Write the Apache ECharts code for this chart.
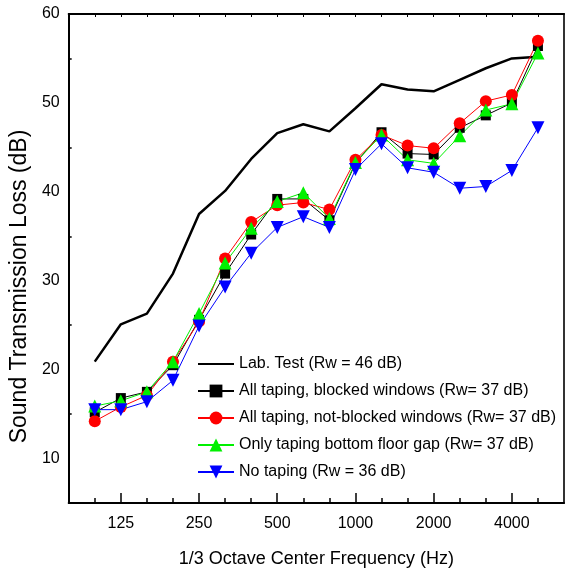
<!DOCTYPE html>
<html>
<head>
<meta charset="utf-8">
<script src="https://cdn.jsdelivr.net/npm/echarts@6/dist/echarts.min.js"></script>
<style>
  html, body { margin: 0; padding: 0; background: #fff; }
  #main { width: 567px; height: 574px; }
</style>
</head>
<body>
<div id="main"></div>
<script>
// 1/3 octave bands
const freqs = ["100", "125", "160", "200", "250", "315", "400", "500", "630", "800",
  "1000", "1250", "1600", "2000", "2500", "3150", "4000", "5000"];
const tickLabels = ["125", "250", "500", "1000", "2000", "4000"];

const labTest = [20.9, 25.1, 26.3, 30.8, 37.5, 40.1, 43.7, 46.6, 47.6, 46.8, 49.4, 52.1, 51.5, 51.3, 52.6, 53.9, 55.0, 55.2];
const blocked = [15.2, 16.8, 17.5, 20.5, 25.6, 30.8, 35.2, 39.2, 39.2, 36.8, 43.2, 46.7, 44.3, 44.2, 47.2, 48.6, 50.0, 56.4];
const notBlocked = [14.2, 15.8, 17.1, 20.9, 25.4, 32.5, 36.6, 38.5, 38.8, 38.0, 43.6, 46.4, 45.2, 44.9, 47.7, 50.2, 50.9, 57.0];
const bottomGap = [15.9, 16.5, 17.5, 20.9, 26.3, 32.0, 35.9, 38.9, 39.9, 37.0, 43.3, 46.4, 43.6, 43.2, 46.3, 49.2, 49.9, 55.6];
const noTaping = [15.5, 15.5, 16.4, 18.8, 24.9, 29.3, 33.1, 36.0, 37.2, 36.0, 42.5, 45.4, 42.7, 42.2, 40.4, 40.6, 42.4, 47.2];

// pad one empty slot on each side so the box extends past 100 and 5000 Hz
const cats = [""].concat(freqs, [""]);
const pad = (arr) => [null].concat(arr, [null]);

const font = "'Liberation Sans', Arial, sans-serif";
const isBand = (i, v) => v !== "";

var myChart = echarts.init(document.getElementById("main"));

myChart.setOption({
  animation: false,
  grid: { left: 68, right: 3, top: 14, bottom: 71 },
  xAxis: [
    {
      type: "category",
      data: cats,
      boundaryGap: false,
      position: "bottom",
      axisLine: { lineStyle: { color: "#000", width: 2 } },
      axisTick: {
        inside: true,
        length: 10,
        lineStyle: { color: "#000", width: 1.5 },
        interval: (i, v) => tickLabels.includes(v),
      },
      axisLabel: {
        interval: (i, v) => tickLabels.includes(v),
        color: "#000",
        fontFamily: font,
        fontSize: 16,
        margin: 13,
      },
      splitLine: { show: false },
      name: "1/3 Octave Center Frequency (Hz)",
      nameLocation: "middle",
      nameGap: 47,
      nameTextStyle: { color: "#000", fontFamily: font, fontSize: 18 },
    },
    {
      type: "category",
      data: cats,
      boundaryGap: false,
      position: "bottom",
      axisLine: { show: false },
      axisTick: {
        inside: true,
        length: 5,
        lineStyle: { color: "#000", width: 1.5 },
        interval: isBand,
      },
      axisLabel: { show: false },
      splitLine: { show: false },
    },
    {
      type: "category",
      data: cats,
      boundaryGap: false,
      position: "top",
      axisLine: { lineStyle: { color: "#000", width: 2 } },
      axisTick: {
        inside: true,
        length: 3,
        lineStyle: { color: "#000", width: 1 },
        interval: isBand,
      },
      axisLabel: { show: false },
      splitLine: { show: false },
    },
  ],
  yAxis: [
    {
      type: "value",
      min: 5,
      max: 60,
      splitNumber: 6,
      position: "left",
      axisLine: { show: true, lineStyle: { color: "#000", width: 2 } },
      axisTick: { inside: true, length: 7, lineStyle: { color: "#000", width: 1.5 } },
      minorTick: { show: true, splitNumber: 2, length: 3, lineStyle: { color: "#000", width: 1.5 } },
      axisLabel: {
        showMinLabel: false,
        color: "#000",
        fontFamily: font,
        fontSize: 16,
        margin: 9,
      },
      splitLine: { show: false },
      name: "Sound Transmission Loss (dB)",
      nameLocation: "middle",
      nameGap: 34,
      nameTextStyle: { color: "#000", fontFamily: font, fontSize: 23, padding: [0, 56, 0, 0] },
    },
    {
      type: "value",
      min: 5,
      max: 60,
      interval: 5,
      position: "right",
      axisLine: { show: true, lineStyle: { color: "#333", width: 2 } },
      axisTick: { inside: true, length: 3, lineStyle: { color: "#000", width: 1 } },
      axisLabel: { show: false },
      splitLine: { show: false },
    },
  ],
  legend: {
    orient: "vertical",
    left: 192,
    top: 349,
    itemWidth: 36,
    itemHeight: 16,
    itemGap: 7,
    textStyle: { color: "#000", fontFamily: font, fontSize: 16, lineHeight: 20 },
    data: [
      { name: "Lab. Test (Rw = 46 dB)", itemStyle: { opacity: 0 } },
      "All taping, blocked windows (Rw= 37 dB)",
      "All taping, not-blocked windows (Rw= 37 dB)",
      "Only taping bottom floor gap (Rw= 37 dB)",
      "No taping (Rw = 36 dB)",
    ],
  },
  series: [
    {
      name: "Lab. Test (Rw = 46 dB)",
      type: "line",
      data: pad(labTest),
      symbol: "none",
      color: "#000",
      lineStyle: { color: "#000", width: 2.5 },
    },
    {
      name: "All taping, blocked windows (Rw= 37 dB)",
      type: "line",
      data: pad(blocked),
      symbol: "rect",
      symbolSize: 10,
      color: "#000",
      lineStyle: { color: "#000", width: 1 },
    },
    {
      name: "All taping, not-blocked windows (Rw= 37 dB)",
      type: "line",
      data: pad(notBlocked),
      symbol: "circle",
      symbolSize: 12,
      color: "#ff0000",
      lineStyle: { color: "#ff0000", width: 1 },
    },
    {
      name: "Only taping bottom floor gap (Rw= 37 dB)",
      type: "line",
      data: pad(bottomGap),
      symbol: "triangle",
      symbolSize: 13,
      color: "#00f000",
      lineStyle: { color: "#00f000", width: 1 },
    },
    {
      name: "No taping (Rw = 36 dB)",
      type: "line",
      data: pad(noTaping),
      symbol: "triangle",
      symbolRotate: 180,
      symbolSize: 13,
      color: "#0000ff",
      lineStyle: { color: "#0000ff", width: 1 },
    },
  ],
});
</script>
</body>
</html>
